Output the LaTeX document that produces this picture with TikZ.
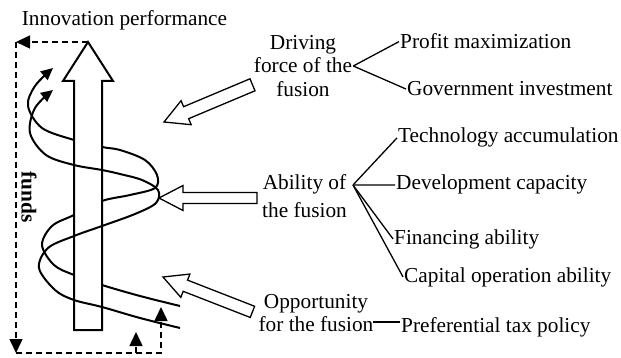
\documentclass[tikz,border=0pt]{standalone}
\usepackage{fontspec}
\setmainfont{Liberation Serif}
\usetikzlibrary{arrows.meta}
\begin{document}
\begin{tikzpicture}[x=1pt,y=-1pt,
  txt/.style={font=\fontsize{21.3pt}{23.5pt}\selectfont, inner sep=1pt},
  coil/.style={line width=2pt, -{Triangle[length=12pt,width=11pt]}},
  fundline/.style={dash pattern=on 6pt off 4pt, line width=1.5pt},
  tipdash/.style={fundline, -{Triangle[length=14pt,width=13pt]}},
  hollow/.style={draw, fill=white, line width=1.3pt, line join=miter},
  bigarrow/.style={draw, fill=white, line width=2pt, line join=miter},
  branch/.style={line width=1.3pt},
]
\useasboundingbox (0,0) rectangle (621,358);

% funds loop (dashed)
\coordinate (bigtip) at (88,42);
\coordinate (fTL) at (16,42);
\coordinate (fBL) at (16,353);
\coordinate (fBR) at (161,353);
\coordinate (fB2) at (136,353);
\coordinate (fA) at (161,307);
\coordinate (fB) at (136,332);
\draw[tipdash] (bigtip) -- (fTL);
\draw[tipdash] (fTL) -- (fBL);
\draw[tipdash] (fBL) -- (fBR) -- (fA);
\draw[tipdash] (fB2) -- (fB);

% back coil
\draw[coil] plot[smooth, tension=0.55] coordinates {
 (180,306) (140,296) (102,285) (74,275) (54,265) (42,245) (52,226) (74,215)
 (102,201) (130,195) (155,188) (157,175) (145,160) (120,150) (102,147)
 (74,140) (42,128) (28,106) (35,86) (53,68)};

% big hollow arrow (innovation performance)
\draw[bigarrow] (74,330) -- (74,81) -- (63,81) -- (bigtip) -- (113,81) -- (102,81) -- (102,330) -- cycle;

% front coil
\draw[coil] plot[smooth, tension=0.55] coordinates {
 (180,328) (140,318) (102,307) (74,300) (55,290) (39,268) (48,248) (74,236)
 (102,226) (135,214) (156,203) (158,190) (142,180) (120,174) (102,170)
 (74,165) (46,155) (30,133) (35,108) (53,90)};

% hollow arrows from the factors
\begin{scope}[shift={(164,122)}, rotate=22.8]
  \draw[hollow] (0,0) -- (24,-13) -- (24,-6.5) -- (96,-6.5) -- (96,6.5) -- (24,6.5) -- (24,13) -- cycle;
\end{scope}
\begin{scope}[shift={(159,198)}]
  \draw[hollow] (0,0) -- (24,-12.5) -- (24,-5.5) -- (98,-5.5) -- (98,5.5) -- (24,5.5) -- (24,12.5) -- cycle;
\end{scope}
\begin{scope}[shift={(163,277)}, rotate=-21.3]
  \draw[hollow] (0,0) -- (24,-12.5) -- (24,-6) -- (96,-6) -- (96,6) -- (24,6) -- (24,12.5) -- cycle;
\end{scope}

% texts
\node[txt, anchor=base] (perf) at (124.5,26) {Innovation performance};
\node[font=\bfseries\fontsize{21.3pt}{23.5pt}\selectfont, rotate=-90, inner sep=1pt] (funds) at (29,197) {funds};

\node[txt, align=center] (drive) at (303,66) {Driving\\force of the\\fusion};
\node[txt, anchor=base west] (profit) at (399,49) {Profit maximization};
\node[txt, anchor=base west] (gov) at (406,96) {Government investment};
\draw[branch] (drive.east) -- (profit.west);
\draw[branch] (drive.east) -- (gov.west);

\node[txt, align=center] (abil) at (304.5,196) {Ability of\\[4.5pt]the fusion};
\coordinate (abr) at (353,185);
\node[txt, anchor=base west] (tech) at (397,143) {Technology accumulation};
\node[txt, anchor=base west] (dev) at (395,190) {Development capacity};
\node[txt, anchor=base west] (fin) at (393,244) {Financing ability};
\node[txt, anchor=base west] (cap) at (403,282) {Capital operation ability};
\draw[branch] (abr) -- (tech.west);
\draw[branch] (abr) -- (dev.west);
\draw[branch] (abr) -- (fin.west);
\draw[branch] (abr) -- (cap.west);

\node[txt, align=center] (opp) at (316,313) {Opportunity\\for the fusion};
\coordinate (obr) at (373,322);
\node[txt, anchor=base west] (pref) at (400,332) {Preferential tax policy};
\draw[branch] (obr) -- (obr -| pref.west);
\end{tikzpicture}
\end{document}
